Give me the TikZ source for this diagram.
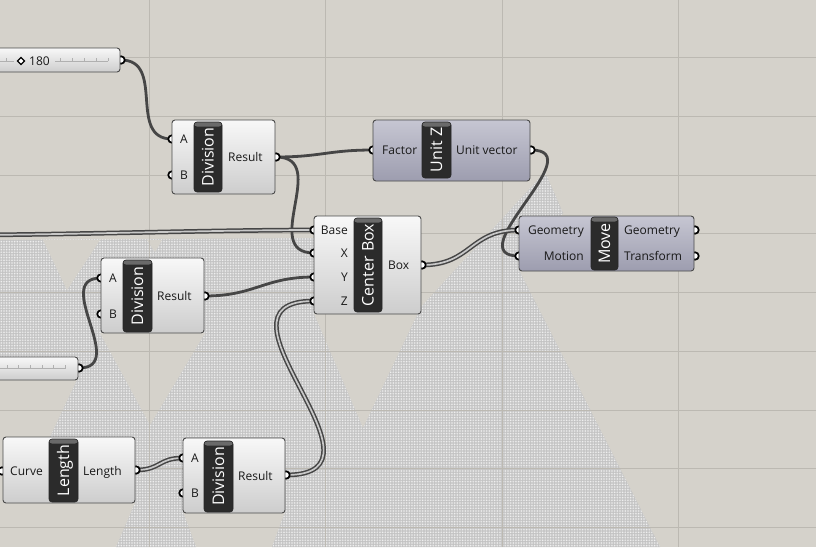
\documentclass[tikz,border=0pt]{standalone}
\usepackage{fontspec}
\setmainfont{Open Sans}
\usetikzlibrary{patterns.meta,calc}
\definecolor{bg}{HTML}{D5D2CB}
\definecolor{gridc}{HTML}{BCB9B2}
\definecolor{stip}{HTML}{C3C3C3}
\definecolor{wirec}{HTML}{464646}
\definecolor{dwin}{HTML}{C8C8C8}
\definecolor{edgec}{HTML}{4A4A4A}
\definecolor{bodt}{HTML}{F8F8F8}
\definecolor{bodb}{HTML}{CDCDCD}
\definecolor{vbt}{HTML}{C6C6D2}
\definecolor{vbb}{HTML}{9D9DAF}
\definecolor{lblc}{HTML}{2B2B2B}
\definecolor{lbltop}{HTML}{6A6A6A}
\definecolor{rulerc}{HTML}{B0B0B0}
\tikzset{
  wire/.style={draw=wirec, line width=2.8pt},
  dwire/.style={draw=wirec, line width=1.5pt, double=dwin, double distance=1.7pt},
  grip/.style={circle, fill=white, draw=black, line width=1.7pt, inner sep=0pt, minimum size=7.5pt},
  body/.style={draw=edgec, line width=0.9pt, rounded corners=3pt, top color=bodt, bottom color=bodb, inner sep=0pt},
  vbody/.style={draw=edgec, line width=0.9pt, rounded corners=3pt, top color=vbt, bottom color=vbb, inner sep=0pt},
  lblbox/.style={fill=lblc, draw=black!85, line width=0.6pt, rounded corners=3pt, inner sep=0pt,
    path picture={\fill[lbltop] (path picture bounding box.north west) rectangle ([yshift=-4.5pt]path picture bounding box.north east);}},
  lbltxt/.style={text=white, rotate=90, font=\fontsize{16}{16}\selectfont, inner sep=0pt, text height=11.4pt, text depth=0pt},
  ptxt/.style={text=black!90, font=\fontsize{12}{14}\selectfont, inner sep=0pt, text height=8.6pt, text depth=0pt},
  ruler/.style={draw=rulerc, line width=0.8pt},
}
\begin{document}
\begin{tikzpicture}[x=1pt,y=-1pt]
\useasboundingbox (0,0) rectangle (816,547);
\fill[bg] (0,0) rectangle (816,547);
% stippled region
\path[fill=stip, postaction={pattern={Dots[distance=1.6pt,radius=0.45pt]}, pattern color=white}]
  (0,240) -- (314,238) -- (314,314) -- (363,428) -- (421,307) -- (545,172) -- (563,213)
  -- (520,272) -- (660,547) -- (272,547) -- (285,512) -- (285,440) -- (183,440) -- (183,512)
  -- (196,547) -- (116,547) -- (135,503) -- (135,437) -- (50,437) -- (77,380) -- (77,357)
  -- (0,357) -- cycle;
\fill[bg] (100,333) -- (205,333) -- (150,425) -- cycle;
\fill[bg] (43,240) -- (100,240) -- (67,290) -- cycle;
\fill[bg] (147,240) -- (162,240) -- (155,252) -- cycle;
% grid
\foreach \gx in {149,325.5,502,678.5} \draw[gridc, line width=0.9pt] (\gx,0) -- (\gx,547);
\foreach \gy in {57.4,116,175,233.5,292,351,410,468.5,527} \draw[gridc, line width=0.9pt] (0,\gy) -- (816,\gy);
% ports
\coordinate (s1o) at (121,60);
\coordinate (s2o) at (79,368);
\coordinate (d1a) at (172,139);
\coordinate (d1b) at (172,175);
\coordinate (d1r) at (276,157);
\coordinate (uzf) at (373,150);
\coordinate (uzo) at (531,150);
\coordinate (cbb) at (314,230);
\coordinate (cbx) at (314,253);
\coordinate (cby) at (314,277);
\coordinate (cbz) at (314,301);
\coordinate (cbo) at (422,265);
\coordinate (mvg) at (519,230);
\coordinate (mvm) at (519,256);
\coordinate (mvog) at (695,230);
\coordinate (mvot) at (695,256);
\coordinate (d2a) at (101,278);
\coordinate (d2b) at (101,314);
\coordinate (d2r) at (205,296);
\coordinate (lnc) at (2,471);
\coordinate (lno) at (136,470);
\coordinate (d3a) at (183,458);
\coordinate (d3b) at (183,493);
\coordinate (d3r) at (286,475);
\coordinate (base0) at (-40,235);
% wires
\draw[wire] (s1o) .. controls +(45,0) and +(-45,0) .. (d1a);
\draw[wire] (d1r) .. controls +(45,0) and +(-45,0) .. (uzf);
\draw[wire] (d1r) .. controls +(55,0) and +(-55,0) .. (cbx);
\draw[dwire] (base0) .. controls +(100,0) and +(-100,0) .. (cbb);
\draw[wire] (uzo) .. controls +(62,0) and +(-62,0) .. (mvm);
\draw[dwire] (cbo) .. controls +(50,0) and +(-50,0) .. (mvg);
\draw[wire] (s2o) .. controls +(50,0) and +(-50,0) .. (d2a);
\draw[wire] (d2r) .. controls +(50,0) and +(-50,0) .. (cby);
\draw[dwire] (lno) .. controls +(25,0) and +(-25,0) .. (d3a);
\draw[dwire] (d3r) .. controls +(118,0) and +(-118,0) .. (cbz);
% grips
\foreach \p in {s1o,s2o,d1a,d1b,d1r,uzf,uzo,cbb,cbx,cby,cbz,cbo,mvg,mvm,mvog,mvot,d2a,d2b,d2r,lnc,lno,d3a,d3b,d3r}
  \node[grip] (g\p) at (\p) {};
% sliders
\node[body, minimum width=140pt, minimum height=24pt] (sl1) at (50,60) {};
\draw[ruler] (0,61) -- (14,61) (55,61) -- (108,61);
\foreach \tx in {6,60,72,84,96,108} \draw[ruler] (\tx,61) -- (\tx,57.5);
\node[draw=black, line width=1.2pt, minimum size=5pt, inner sep=0pt, rotate=45, fill=white] (sl1k) at (21,61) {};
\node[ptxt, anchor=west] (sl1t) at (29,61) {180};
\node[body, minimum width=98pt, minimum height=23pt] (sl2) at (29,368.5) {};
\draw[ruler] (0,368.5) -- (65,368.5);
\foreach \tx in {7,18,30,42,53,65} \draw[ruler] (\tx,368.5) -- (\tx,365);
% Division 1
\node[body, minimum width=103pt, minimum height=74pt] (div1) at (223.5,157) {};
\node[lblbox, minimum width=28pt, minimum height=70pt] (div1b) at (208,157) {};
\node[lbltxt] (div1l) at (div1b) {Division};
\node[ptxt, anchor=west] (div1ta) at (180,139) {A};
\node[ptxt, anchor=west] (div1tb) at (180,175) {B};
\node[ptxt, anchor=west] (div1tr) at (228,157) {Result};
% Unit Z
\node[vbody, minimum width=157pt, minimum height=61pt] (uz) at (451.5,150.5) {};
\node[lblbox, minimum width=29pt, minimum height=56pt] (uzb) at (436.5,150) {};
\node[lbltxt] (uzl) at (uzb) {Unit Z};
\node[ptxt, anchor=west] (uztf) at (382,150) {Factor};
\node[ptxt, anchor=west] (uztv) at (456,150) {Unit vector};
% Center Box
\node[body, minimum width=107pt, minimum height=98pt] (cb) at (367.5,265) {};
\node[lblbox, minimum width=28pt, minimum height=94pt] (cbbx) at (368,265) {};
\node[lbltxt] (cbl) at (cbbx) {Center Box};
\node[ptxt, anchor=east] (cbtb) at (348,230) {Base};
\node[ptxt, anchor=east] (cbtx) at (348,253) {X};
\node[ptxt, anchor=east] (cbty) at (348,277) {Y};
\node[ptxt, anchor=east] (cbtz) at (348,301) {Z};
\node[ptxt, anchor=west] (cbto) at (388,265) {Box};
% Move
\node[vbody, minimum width=175pt, minimum height=55pt] (mv) at (606.5,243.5) {};
\node[lblbox, minimum width=27pt, minimum height=53pt] (mvb) at (604.5,243.5) {};
\node[lbltxt] (mvl) at (mvb) {Move};
\node[ptxt, anchor=east] (mvtg) at (584,230) {Geometry};
\node[ptxt, anchor=east] (mvtm) at (584,256) {Motion};
\node[ptxt, anchor=west] (mvtog) at (624,230) {Geometry};
\node[ptxt, anchor=west] (mvtot) at (624,256) {Transform};
% Division 2
\node[body, minimum width=103pt, minimum height=75pt] (div2) at (152.5,295.5) {};
\node[lblbox, minimum width=29pt, minimum height=72pt] (div2b) at (137.5,296) {};
\node[lbltxt] (div2l) at (div2b) {Division};
\node[ptxt, anchor=west] (div2ta) at (109,278) {A};
\node[ptxt, anchor=west] (div2tb) at (109,314) {B};
\node[ptxt, anchor=west] (div2tr) at (157,296) {Result};
% Length
\node[body, minimum width=132pt, minimum height=66pt] (len) at (69,470) {};
\node[lblbox, minimum width=29pt, minimum height=63pt] (lenb) at (63.5,470.5) {};
\node[lbltxt] (lenl) at (lenb) {Length};
\node[ptxt, anchor=west] (lentc) at (10,471) {Curve};
\node[ptxt, anchor=west] (lento) at (83,471) {Length};
% Division 3
\node[body, minimum width=102pt, minimum height=75pt] (div3) at (234,475.5) {};
\node[lblbox, minimum width=29pt, minimum height=71pt] (div3b) at (218.5,476.5) {};
\node[lbltxt] (div3l) at (div3b) {Division};
\node[ptxt, anchor=west] (div3ta) at (191,458) {A};
\node[ptxt, anchor=west] (div3tb) at (191,493) {B};
\node[ptxt, anchor=west] (div3tr) at (238,476) {Result};
\end{tikzpicture}
\end{document}
